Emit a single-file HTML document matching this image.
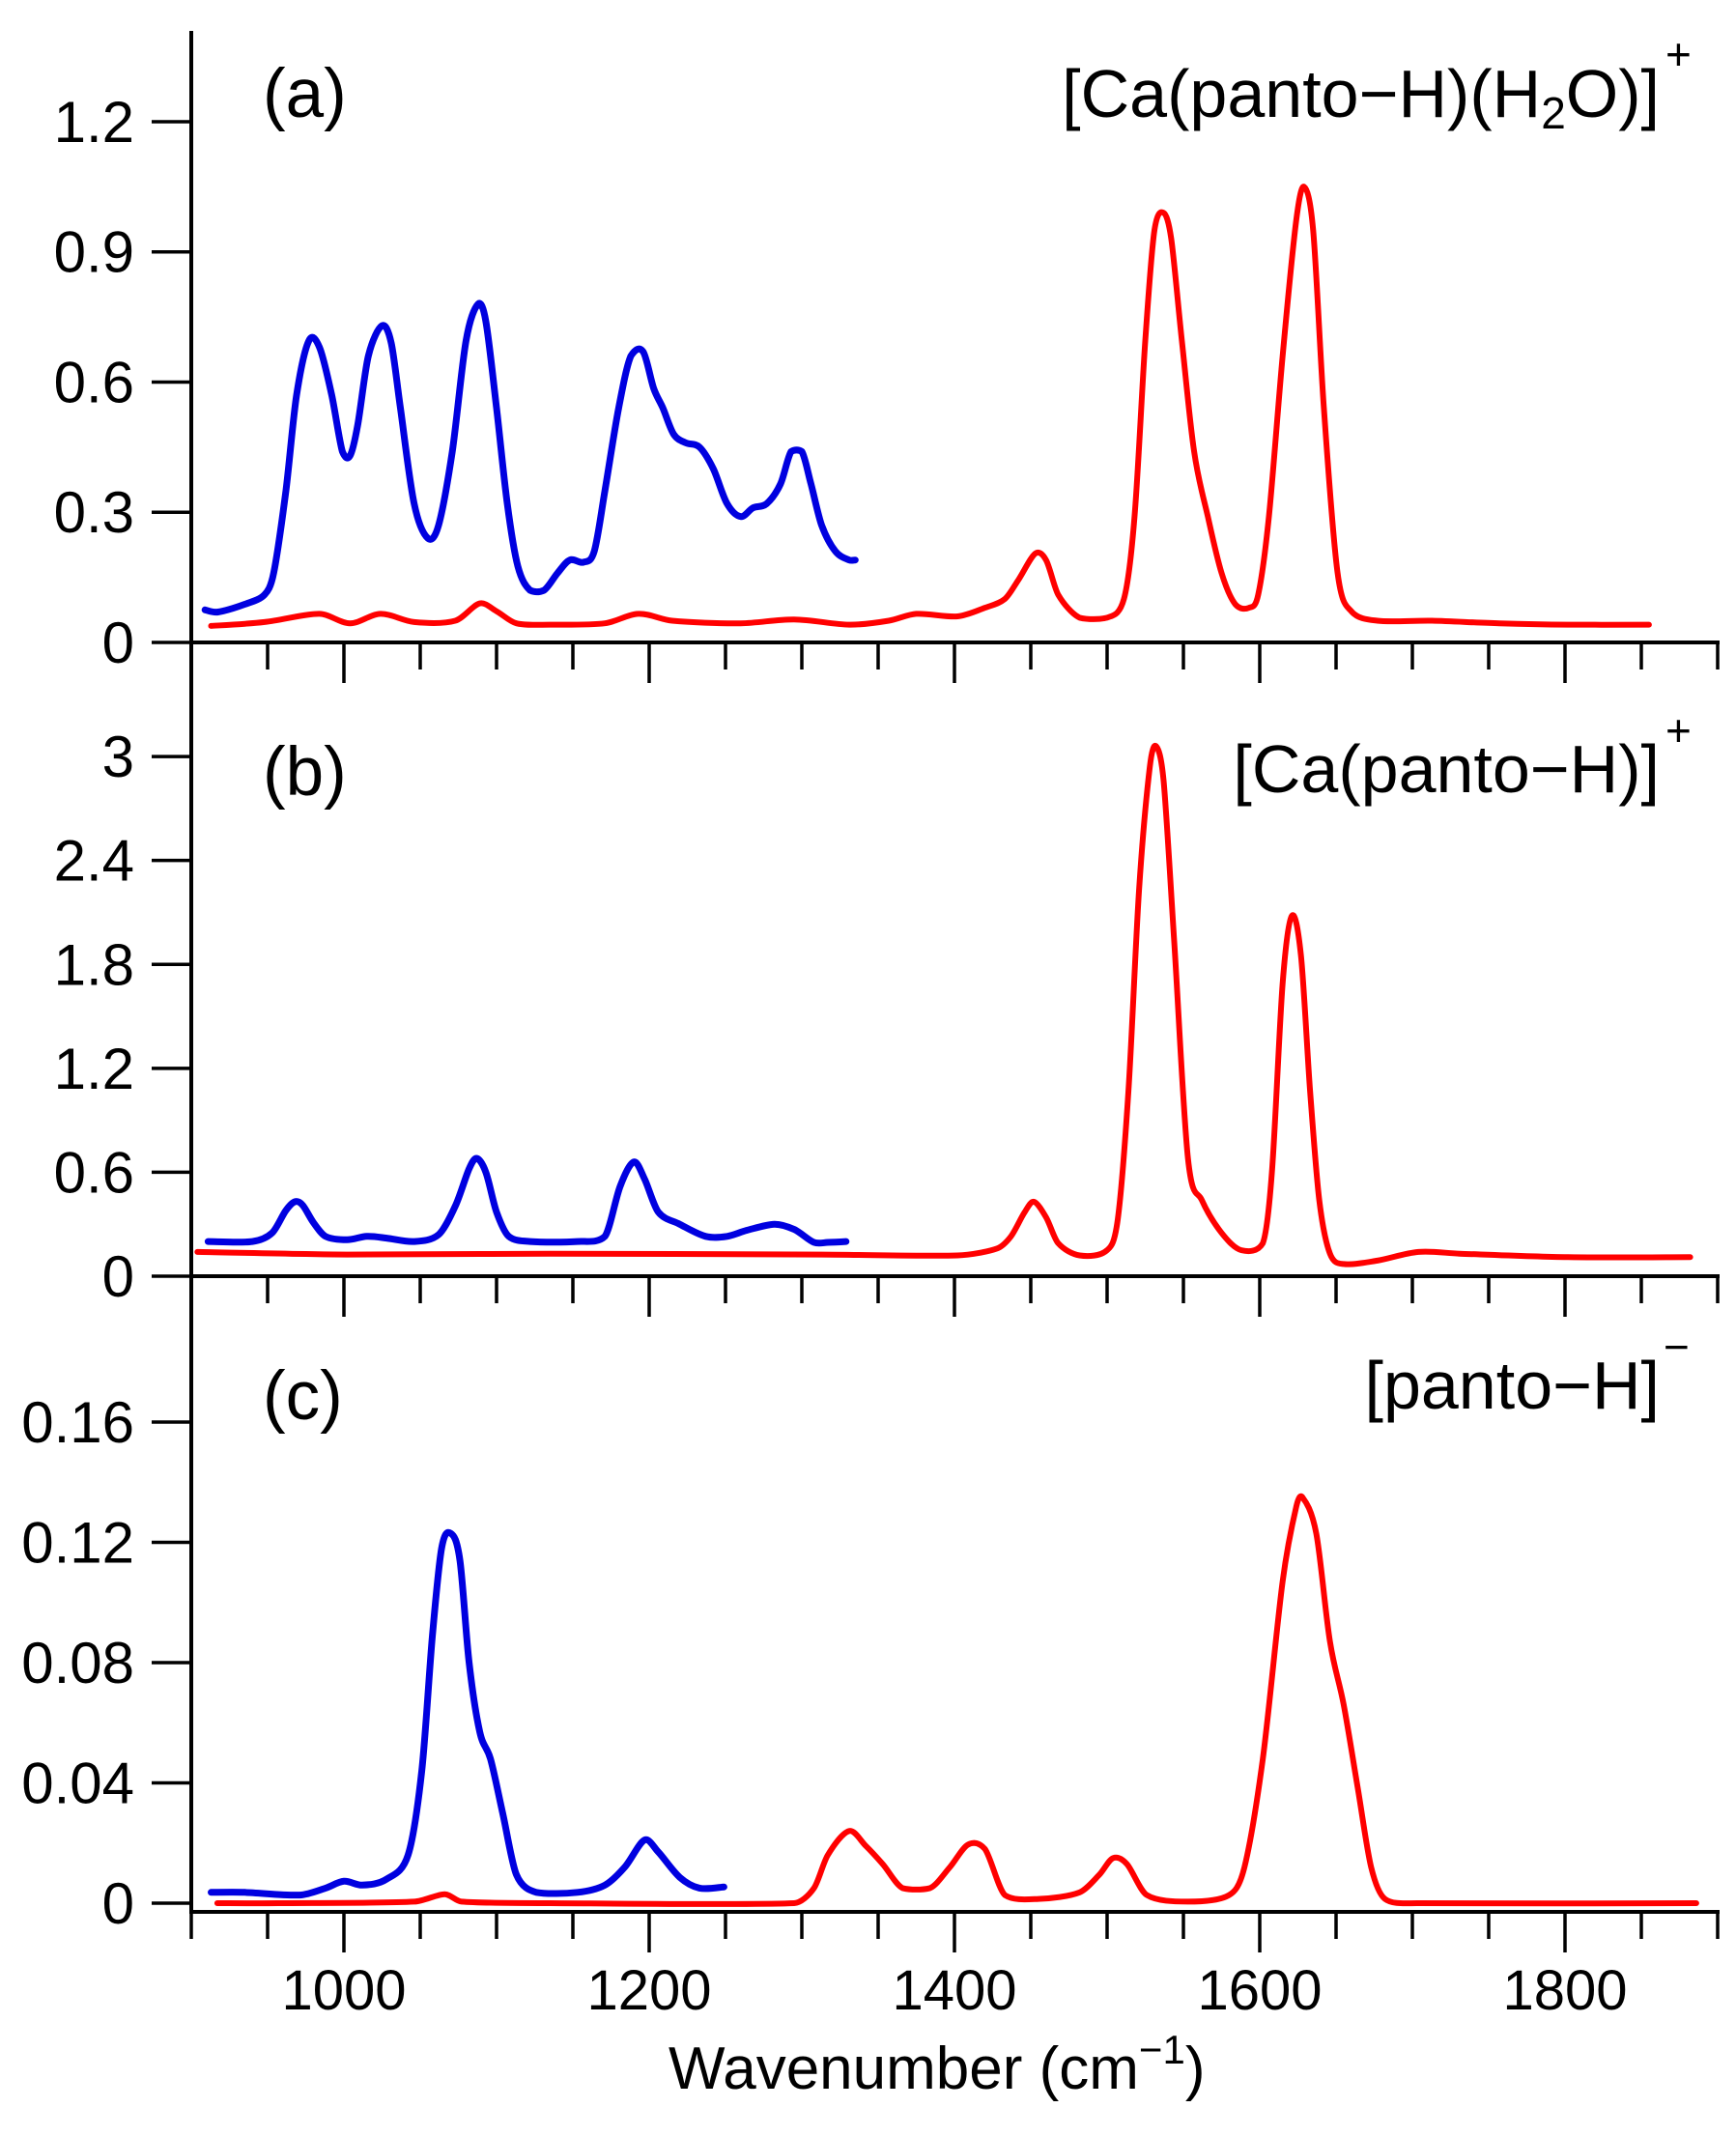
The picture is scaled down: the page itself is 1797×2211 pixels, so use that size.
<!DOCTYPE html>
<html><head><meta charset="utf-8"><style>
html,body{margin:0;padding:0;background:#fff}
svg{display:block}
text{font-family:"Liberation Sans",Arial,sans-serif;fill:#000}
</style></head><body>
<svg id="chart" width="1797" height="2211" viewBox="0 0 1797 2211" xmlns="http://www.w3.org/2000/svg">
<g id="axes"></g>
<g id="series"></g>
<text x="272" y="121" font-size="71">(a)</text>
<text x="272" y="823" font-size="71">(b)</text>
<text x="272" y="1469" font-size="71">(c)</text>
<text x="1718" y="121" font-size="70" text-anchor="end">[Ca(panto−H)(H<tspan font-size="46" dy="12">2</tspan><tspan dy="-12">O)]</tspan></text>
<text x="1724" y="72" font-size="46">+</text>
<text x="1718" y="820" font-size="70" text-anchor="end">[Ca(panto−H)]</text>
<text x="1724" y="772" font-size="46">+</text>
<text x="1718" y="1458" font-size="70" text-anchor="end">[panto−H]</text>
<text x="1722" y="1410" font-size="46">−</text>
<text x="692" y="2162" font-size="62">Wavenumber (cm<tspan font-size="42" dy="-26">−1</tspan><tspan dy="26">)</tspan></text>
</svg>
<script>
// ---- data ----
const xTickLabels=[1000,1200,1400,1600,1800];
const aTicks=["0","0.3","0.6","0.9","1.2"], aTickVals=[0,0.3,0.6,0.9,1.2];
const bTicks=["0","0.6","1.2","1.8","2.4","3"], bTickVals=[0,0.6,1.2,1.8,2.4,3];
const cTicks=["0","0.04","0.08","0.12","0.16"], cTickVals=[0,0.04,0.08,0.12,0.16];

const aBlueX=[905,913,931,944,950,958,965,973,980,988,995,1000,1005,1012,1021,1027,1033,1042,1051,1058,1067,1076,1084,1089,1096,1103,1110,1118,1127,1136,1144,1153,1160,1167,1176,1184,1192,1199,1205,1212,1220,1229,1238,1247,1256,1264,1273,1282,1289,1296,1302,1309,1318,1327,1331];
const aBlueY=[.075,.07,.088,.11,.16,.35,.57,.695,.68,.57,.44,.43,.5,.66,.73,.69,.54,.32,.24,.27,.44,.695,.78,.74,.54,.32,.175,.12,.12,.16,.19,.185,.21,.35,.54,.66,.67,.585,.54,.48,.46,.45,.40,.32,.29,.31,.32,.365,.44,.44,.365,.27,.21,.19,.19];
const aRedX=[909,944,980,1000,1020,1042,1069,1085,1096,1109,1131,1167,1189,1211,1256,1291,1327,1353,1371,1398,1416,1429,1438,1449,1456,1464,1478,1496,1507,1514,1521,1527,1533,1538,1545,1553,1562,1571,1580,1589,1595,1602,1611,1620,1625,1631,1638,1647,1656,1673,1709,1753,1798,1851];
const aRedY=[.038,.047,.066,.044,.066,.047,.05,.09,.072,.044,.041,.044,.066,.05,.044,.053,.041,.05,.066,.06,.08,.10,.145,.205,.19,.11,.057,.057,.10,.29,.695,.95,.99,.93,.695,.44,.29,.16,.088,.08,.11,.29,.66,.975,1.05,.95,.54,.16,.072,.05,.05,.044,.041,.041];

const bBlueX=[907,936,949,958,964,969,976,984,998,1011,1024,1042,1058,1069,1078,1083,1089,1096,1104,1118,1149,1167,1177,1186,1193,1202,1216,1233,1247,1260,1278,1291,1304,1313,1325];
const bBlueY=[.2,.2,.25,.38,.43,.41,.31,.23,.21,.23,.22,.2,.24,.405,.62,.68,.6,.37,.23,.2,.2,.23,.52,.66,.56,.37,.30,.23,.23,.265,.30,.27,.195,.195,.2];
const bRedX=[900,998,1131,1309,1398,1424,1433,1442,1448,1456,1464,1478,1496,1503,1510,1517,1524,1528,1533,1540,1549,1558,1571,1584,1598,1604,1611,1617,1623,1629,1635,1642,1651,1673,1700,1727,1798,1878];
const bRedY=[.14,.125,.13,.125,.12,.16,.23,.37,.43,.34,.19,.12,.15,.33,1.07,2.24,2.94,3.06,2.86,1.93,.68,.44,.25,.15,.19,.6,1.69,2.08,1.85,1.07,.44,.13,.07,.09,.14,.13,.11,.11];

const cBlueX=[909,931,967,984,996,1008,1024,1038,1047,1054,1060,1066,1072,1078,1085,1092,1100,1109,1122,1149,1167,1180,1193,1202,1216,1229,1245];
const cBlueY=[.0036,.0036,.0027,.005,.0073,.006,.008,.016,.044,.089,.118,.123,.114,.08,.057,.048,.03,.0095,.0036,.0036,.006,.012,.021,.017,.0086,.005,.0054];
const cRedX=[913,953,1042,1062,1073,1131,1291,1304,1313,1327,1338,1349,1362,1380,1393,1405,1416,1429,1451,1478,1491,1500,1509,1522,1549,1576,1586,1598,1611,1620,1624,1633,1642,1651,1660,1669,1678,1700,1882];
const cRedY=[0,0,.0005,.003,.0005,0,0,.005,.016,.024,.019,.013,.005,.005,.012,.0195,.018,.0027,.0014,.0036,.0095,.015,.013,.0027,.0005,.0027,.012,.048,.107,.132,.135,.123,.087,.066,.039,.012,.0014,0,0];

// ---- scales ----
const NS="http://www.w3.org/2000/svg";
const X0=198, XPX=1.58, XSHIFT=4;
function xs(w){return X0+(w-900)*XPX;}
const panels=[
 {n:"a",y0:665,k:449.2,ticks:aTicks,vals:aTickVals,axisY:665},
 {n:"b",y0:1321,k:179.3,ticks:bTicks,vals:bTickVals,axisY:1321},
 {n:"c",y0:1970,k:3112.5,ticks:cTicks,vals:cTickVals,axisY:1979}
];
function mk(tag,attrs,parent){const e=document.createElementNS(NS,tag);for(const k in attrs)e.setAttribute(k,attrs[k]);parent.appendChild(e);return e;}
const axes=document.getElementById('axes'), ser=document.getElementById('series');

let yl=mk('line',{x1:X0,y1:32,x2:X0,y2:1981,stroke:'#000','stroke-width':4},axes);



panels.forEach(p=>{
  const ys=v=>p.y0-v*p.k;
  let xl=mk('line',{x1:X0-2,y1:p.axisY,x2:xs(1900)+2,y2:p.axisY,stroke:'#000','stroke-width':4},axes);
  
  
  for(let w=900;w<=1900;w+=50){
    const major=(w%200===0);
    let t=mk('line',{x1:xs(w),y1:p.axisY,x2:xs(w),y2:p.axisY+(major?42:28),stroke:'#000','stroke-width':3.5},axes);
    
    
  }
  p.vals.forEach((v,i)=>{
    let t=mk('line',{x1:157,y1:ys(v),x2:X0,y2:ys(v),stroke:'#000','stroke-width':3.5},axes);
    
    
    let l=mk('text',{x:139,y:ys(v)+21,'font-size':60,'text-anchor':'end'},axes);
    l.textContent=p.ticks[i];
    
    
  });
});
xTickLabels.forEach(w=>{
  let l=mk('text',{x:xs(w),y:2080,'font-size':58,'text-anchor':'middle'},axes);
  l.textContent=w;
  
  
});

function clamp(v,a,b){return Math.min(Math.max(v,Math.min(a,b)),Math.max(a,b));}
function drawLine(p,X,Y,color,width,name){
  const P=X.map((w,i)=>[xs(w+XSHIFT),p.y0-Y[i]*p.k]);
  let d='M'+P[0][0].toFixed(1)+','+P[0][1].toFixed(1);
  for(let i=0;i<P.length-1;i++){
    const p0=P[Math.max(0,i-1)],p1=P[i],p2=P[i+1],p3=P[Math.min(P.length-1,i+2)];
    const dx=p2[0]-p1[0];
    let t1x=(p2[0]-p0[0])/6, t1y=(p2[1]-p0[1])/6;
    let t2x=(p3[0]-p1[0])/6, t2y=(p3[1]-p1[1])/6;
    const s1=t1x>dx/3?(dx/3)/t1x:1, s2=t2x>dx/3?(dx/3)/t2x:1;
    const c1=[p1[0]+t1x*s1,p1[1]+t1y*s1];
    const c2=[p2[0]-t2x*s2,p2[1]-t2y*s2];
    c1[1]=clamp(c1[1],p1[1]-Math.abs(p2[1]-p1[1])-2,p1[1]+Math.abs(p2[1]-p1[1])+2);
    c2[1]=clamp(c2[1],p2[1]-Math.abs(p2[1]-p1[1])-2,p2[1]+Math.abs(p2[1]-p1[1])+2);
    d+=' C'+c1[0].toFixed(1)+','+c1[1].toFixed(1)+' '+c2[0].toFixed(1)+','+c2[1].toFixed(1)+' '+p2[0].toFixed(1)+','+p2[1].toFixed(1);
  }
  let pl=mk('path',{d:d,fill:'none',stroke:color,'stroke-width':width,'stroke-linejoin':'round','stroke-linecap':'round'},ser);
  
  
}
drawLine(panels[0],aRedX,aRedY,'#ff0000',6,'series-a-red');
drawLine(panels[0],aBlueX,aBlueY,'#0000e0',7,'series-a-blue');
drawLine(panels[1],bRedX,bRedY,'#ff0000',6,'series-b-red');
drawLine(panels[1],bBlueX,bBlueY,'#0000e0',7,'series-b-blue');
drawLine(panels[2],cRedX,cRedY,'#ff0000',6,'series-c-red');
drawLine(panels[2],cBlueX,cBlueY,'#0000e0',7,'series-c-blue');
</script>
</body></html>
